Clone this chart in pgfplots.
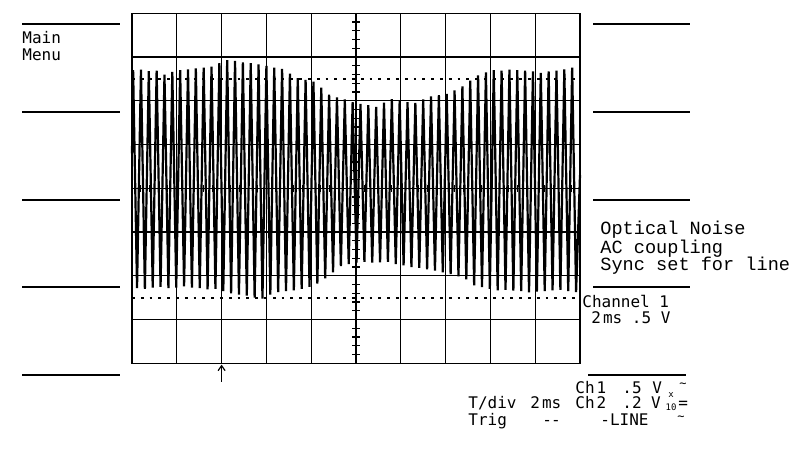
\documentclass[border=0pt]{standalone}
\usepackage{pgfplots}
\pgfplotsset{compat=1.18}
\usepackage{fontspec}
\usetikzlibrary{arrows.meta}
\newfontfamily\plotfont{DejaVu Sans Mono}
\newfontfamily\courfont{Liberation Mono}
\begin{document}
\begin{tikzpicture}[x=1pt,y=1pt]
\useasboundingbox (0,0) rectangle (400,225.5);
% soft-key lines
\foreach \yy in {213.5,169.5,125.5,82,38}{
  \draw[line width=0.6pt] (11,\yy) -- (60,\yy);
}
\foreach \yy in {213.5,169.5,125.5,82}{
  \draw[line width=0.6pt] (296.5,\yy) -- (345,\yy);
}
\draw[line width=0.6pt] (294,38) -- (343,38);
\node[anchor=base west,inner sep=0,font=\plotfont\fontsize{8}{8}\selectfont] at (11,204) {Main};
\node[anchor=base west,inner sep=0,font=\plotfont\fontsize{8}{8}\selectfont] at (11,195.3) {Menu};
\node[anchor=base west,inner sep=0,font=\courfont\fontsize{9.3}{9.3}\selectfont] at (300,108) {Optical Noise};
\node[anchor=base west,inner sep=0,font=\courfont\fontsize{9.3}{9.3}\selectfont] at (300,99) {AC coupling};
\node[anchor=base west,inner sep=0,font=\courfont\fontsize{9.3}{9.3}\selectfont] at (300,90) {Sync set for line};
\node[anchor=base west,inner sep=0,font=\plotfont\fontsize{8}{8}\selectfont] at (291,71.5) {Channel 1};
\node[anchor=base west,inner sep=0,font=\plotfont\fontsize{8}{8}\selectfont] at (295.5,63.5) {2\kern1pt ms .5 V};
% bottom status text
\begin{scope}[every node/.style={anchor=base west,inner sep=0,font=\plotfont\fontsize{8}{8}\selectfont}]
\node at (287.5,28.8) {Ch\kern1pt 1};
\node at (311,28.8) {.5};
\node at (326,28.8) {V};
\node[font=\plotfont\fontsize{6}{6}\selectfont] at (339.5,31.5) {\char"007E};
\node at (234,21) {T/div};
\node at (265,21) {2\kern1pt ms};
\node at (287.5,21) {Ch\kern1pt 2};
\node at (311,21) {.2};
\node at (325.3,21) {V};
\node[font=\plotfont\fontsize{4.5}{3.6}\selectfont] at (332.6,20.2) {\shortstack{x\\10}};
\node at (339,21) {=};
\node at (234,12.8) {Trig};
\node at (271,12.8) {-\kern-0.5pt-};
\node at (300,12.8) {-LINE};
\node[font=\plotfont\fontsize{6}{6}\selectfont] at (338.5,15.5) {\char"007E};
\end{scope}
\begin{axis}[
  at={(66pt,43.85pt)}, anchor=south west,
  width=224pt, height=175pt, scale only axis,
  xmin=0, xmax=20, ymin=-4, ymax=4,
  xtick={0,2,...,20}, ytick={-4,-3,...,4},
  xticklabels={}, yticklabels={},
  major tick length=0pt,
  grid=major, grid style={black, line width=0.6pt},
  axis line style={line width=0.7pt},
  clip=false,
]
% dotted reference lines
\draw[black, line width=0.9pt, dash pattern=on 1.4pt off 3pt] (axis cs:0,2.5) -- (axis cs:20,2.5);
\draw[black, line width=0.9pt, dash pattern=on 1.4pt off 3pt] (axis cs:0,-2.5) -- (axis cs:20,-2.5);
% centre graticule ticks
\pgfplotsinvokeforeach{0.4,0.8,...,19.7}{
  \draw[line width=0.5pt] (axis cs:#1,-0.08) -- (axis cs:#1,0.08);
}
\pgfplotsinvokeforeach{-3.8,-3.6,...,3.9}{
  \draw[line width=0.6pt] (axis cs:9.84,#1) -- (axis cs:10.16,#1);
}
% trigger arrow
\draw[line width=0.6pt, -{Straight Barb[length=2.5pt,width=3.5pt]}] (axis cs:4,-4.42) -- (axis cs:4,-4.03);
% waveform
\addplot[black, line width=1.1pt, line join=miter, miter limit=20] coordinates {
(0,0.8)
(0.05,2.70)(0.225,-2.28)
(0.40,2.71)(0.575,-2.30)
(0.75,2.68)(0.925,-2.27)
(1.10,2.69)(1.275,-2.25)
(1.45,2.60)(1.625,-2.28)
(1.80,2.66)(1.975,-2.27)
(2.15,2.70)(2.325,-2.24)
(2.50,2.72)(2.675,-2.27)
(2.85,2.74)(3.025,-2.28)
(3.20,2.76)(3.375,-2.31)
(3.55,2.78)(3.725,-2.30)
(3.90,2.86)(4.075,-2.35)
(4.25,2.93)(4.425,-2.40)
(4.60,2.91)(4.775,-2.43)
(4.95,2.88)(5.125,-2.45)
(5.30,2.86)(5.475,-2.50)
(5.65,2.83)(5.825,-2.52)
(6.00,2.80)(6.175,-2.43)
(6.35,2.76)(6.525,-2.37)
(6.70,2.73)(6.875,-2.35)
(7.05,2.62)(7.225,-2.33)
(7.40,2.52)(7.575,-2.30)
(7.75,2.48)(7.925,-2.25)
(8.10,2.44)(8.275,-2.18)
(8.45,2.30)(8.625,-2.06)
(8.80,2.14)(8.975,-1.92)
(9.15,2.08)(9.325,-1.78)
(9.50,2.03)(9.675,-1.73)
(9.85,1.97)(10.025,-1.70)
(10.20,1.93)(10.375,-1.68)
(10.55,1.90)(10.725,-1.70)
(10.90,1.86)(11.075,-1.69)
(11.25,1.96)(11.425,-1.68)
(11.60,2.04)(11.775,-1.73)
(11.95,2.01)(12.125,-1.76)
(12.30,1.97)(12.475,-1.80)
(12.65,1.95)(12.825,-1.82)
(13.00,2.03)(13.175,-1.85)
(13.35,2.10)(13.525,-1.88)
(13.70,2.13)(13.875,-1.92)
(14.05,2.16)(14.225,-1.96)
(14.40,2.24)(14.575,-2.01)
(14.75,2.33)(14.925,-2.08)
(15.10,2.46)(15.275,-2.22)
(15.45,2.58)(15.625,-2.26)
(15.80,2.65)(15.975,-2.30)
(16.15,2.70)(16.325,-2.33)
(16.50,2.69)(16.675,-2.32)
(16.85,2.71)(17.025,-2.34)
(17.20,2.70)(17.375,-2.35)
(17.55,2.69)(17.725,-2.38)
(17.90,2.67)(18.075,-2.36)
(18.25,2.64)(18.425,-2.35)
(18.60,2.67)(18.775,-2.33)
(18.95,2.69)(19.125,-2.32)
(19.30,2.72)(19.475,-2.35)
(19.65,2.76)(19.825,-2.37)
(20,0.3)
};
\end{axis}
\end{tikzpicture}
\end{document}
